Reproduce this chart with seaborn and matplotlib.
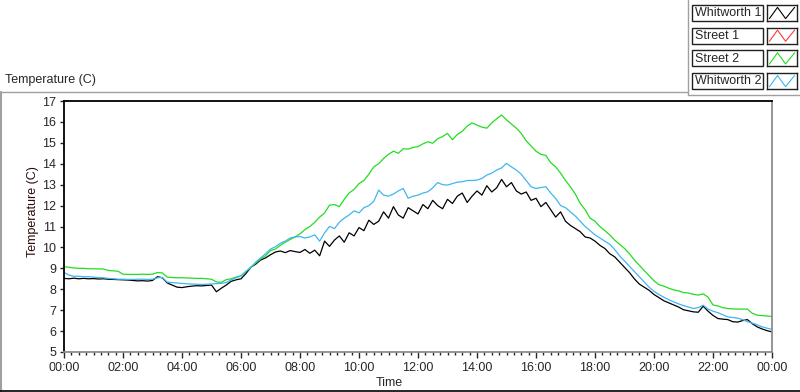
import numpy as np
import pandas as pd
import matplotlib.pyplot as plt
import seaborn as sns
from matplotlib.patches import Rectangle
from matplotlib.lines import Line2D
from matplotlib.ticker import MultipleLocator, FuncFormatter

# Series names / colours (as in the chart legend)
series_names = ["Whitworth 1", "Street 1", "Street 2", "Whitworth 2"]
series_colors = ["#000000", "#ff3a3a", "#22dd22", "#3fb6f2"]

# Temperature readings every 10 minutes, 00:00 -> 24:00
whitworth_1 = [
    8.52, 8.50, 8.53, 8.50, 8.52, 8.50,
    8.51, 8.49, 8.50, 8.48, 8.47, 8.46,
    8.45, 8.44, 8.42, 8.40, 8.41, 8.39,
    8.42, 8.60, 8.55, 8.30, 8.20, 8.10,
    8.08, 8.12, 8.15, 8.17, 8.16, 8.18,
    8.20, 7.88, 8.05, 8.20, 8.38, 8.45,
    8.50, 8.75, 9.05, 9.20, 9.40, 9.50,
    9.65, 9.78, 9.83, 9.75, 9.85, 9.80,
    9.76, 9.90, 9.72, 9.87, 9.60, 10.30,
    10.05, 10.35, 10.55, 10.25, 10.70, 10.55,
    10.95, 10.80, 11.30, 11.10, 11.25, 11.70,
    11.40, 11.95, 11.55, 11.40, 11.90, 11.75,
    11.60, 12.05, 11.85, 12.25, 12.00, 11.85,
    12.30, 12.10, 12.45, 12.60, 12.15, 12.45,
    12.70, 12.50, 12.95, 12.65, 12.85, 13.25,
    12.90, 13.10, 12.70, 12.55, 12.65, 12.25,
    12.35, 11.95, 12.15, 11.80, 11.45, 11.70,
    11.25, 11.05, 10.90, 10.75, 10.50, 10.45,
    10.30, 10.10, 9.95, 9.70, 9.55, 9.30,
    9.05, 8.80, 8.50, 8.25, 8.10, 7.95,
    7.75, 7.60, 7.45, 7.35, 7.25, 7.15,
    7.02, 6.97, 6.92, 6.90, 7.19, 6.95,
    6.75, 6.60, 6.57, 6.55, 6.45, 6.43,
    6.50, 6.55, 6.35, 6.20, 6.10, 6.02,
    5.96,
]
street_1 = []  # listed in the legend, no trace visible
street_2 = [
    9.08, 9.05, 9.02, 9.00, 9.00, 8.98,
    8.98, 8.97, 8.97, 8.90, 8.88, 8.86,
    8.72, 8.71, 8.71, 8.71, 8.72, 8.71,
    8.72, 8.80, 8.78, 8.58, 8.56, 8.55,
    8.55, 8.54, 8.53, 8.52, 8.52, 8.50,
    8.48, 8.35, 8.33, 8.46, 8.50, 8.58,
    8.65, 8.85, 9.05, 9.25, 9.45, 9.60,
    9.85, 9.92, 10.10, 10.25, 10.38, 10.50,
    10.65, 10.85, 11.00, 11.20, 11.45, 11.65,
    12.02, 12.05, 11.95, 12.30, 12.60, 12.78,
    13.05, 13.20, 13.50, 13.85, 14.00, 14.25,
    14.45, 14.60, 14.50, 14.72, 14.70, 14.78,
    14.82, 14.95, 15.05, 14.98, 15.20, 15.30,
    15.45, 15.15, 15.40, 15.55, 15.80, 15.95,
    15.85, 15.75, 15.70, 15.95, 16.15, 16.33,
    16.10, 15.90, 15.70, 15.45, 15.10, 14.85,
    14.60, 14.45, 14.40, 14.05, 13.85, 13.55,
    13.20, 12.90, 12.55, 12.10, 11.80, 11.40,
    11.25, 11.00, 10.80, 10.60, 10.35, 10.15,
    9.95, 9.70, 9.40, 9.15, 8.90, 8.65,
    8.40, 8.22, 8.15, 8.05, 7.97, 7.92,
    7.84, 7.82, 7.76, 7.72, 7.78, 7.62,
    7.25, 7.20, 7.12, 7.08, 7.06, 7.05,
    7.05, 7.05, 6.85, 6.76, 6.74, 6.72,
    6.70,
]
whitworth_2 = [
    8.80, 8.68, 8.62, 8.62, 8.60, 8.60,
    8.58, 8.56, 8.55, 8.52, 8.50, 8.48,
    8.48, 8.47, 8.47, 8.48, 8.48, 8.47,
    8.48, 8.55, 8.56, 8.34, 8.32, 8.30,
    8.28, 8.26, 8.25, 8.24, 8.23, 8.24,
    8.25, 8.27, 8.28, 8.32, 8.45, 8.55,
    8.63, 8.85, 9.05, 9.30, 9.50, 9.70,
    9.92, 10.03, 10.20, 10.30, 10.45, 10.50,
    10.52, 10.45, 10.50, 10.60, 10.30, 10.70,
    11.00, 10.90, 11.20, 11.40, 11.55, 11.75,
    11.65, 11.90, 12.00, 12.20, 12.74, 12.50,
    12.45, 12.55, 12.70, 12.82, 12.35, 12.45,
    12.50, 12.60, 12.66, 12.85, 13.10, 13.00,
    12.98, 13.05, 13.12, 13.14, 13.20, 13.20,
    13.22, 13.30, 13.46, 13.55, 13.70, 13.80,
    14.02, 13.85, 13.70, 13.50, 13.20, 12.90,
    12.82, 12.86, 12.90, 12.60, 12.34, 12.00,
    11.90, 11.70, 11.50, 11.25, 11.00, 10.80,
    10.60, 10.45, 10.30, 10.15, 9.90, 9.60,
    9.35, 9.10, 8.85, 8.60, 8.35, 8.10,
    7.90, 7.75, 7.62, 7.50, 7.40, 7.30,
    7.22, 7.15, 7.08, 7.12, 7.24, 7.05,
    6.95, 6.88, 6.78, 6.68, 6.65, 6.62,
    6.55, 6.45, 6.38, 6.30, 6.20, 6.14,
    6.08,
]

hours = np.arange(len(whitworth_1)) / 6  # 10 minute steps

frames = []
for name, vals in zip(series_names, [whitworth_1, street_1, street_2, whitworth_2]):
    frames.append(pd.DataFrame({"hour": hours[:len(vals)], "temp": vals, "series": name}))
df = pd.concat(frames, ignore_index=True)

sns.set_style("white")
plt.rcParams["font.family"] = ["Liberation Sans", "DejaVu Sans"]
plt.rcParams["font.size"] = 9

W, H = 800, 392
fig = plt.figure(figsize=(W / 100, H / 100), dpi=100)
fig.patch.set_facecolor("white")

def fx(x):
    return x / W

def fy(y):
    return 1 - y / H

ax = fig.add_axes([fx(64), fy(352), fx(772) - fx(64), fy(101) - fy(352)])
sns.lineplot(data=df, x="hour", y="temp", hue="series", hue_order=series_names,
             palette=dict(zip(series_names, series_colors)), legend=False,
             errorbar=None, linewidth=0.9, ax=ax)

ax.set_xlim(0, 24)
ax.set_ylim(5, 17)
ax.xaxis.set_major_locator(MultipleLocator(2))
ax.xaxis.set_minor_locator(MultipleLocator(0.25))
ax.xaxis.set_major_formatter(FuncFormatter(lambda v, p: "%02d:00" % (int(round(v)) % 24)))
ax.yaxis.set_major_locator(MultipleLocator(1))
ax.tick_params(axis="x", which="major", direction="out", length=4.5, width=1, pad=3, labelsize=9, bottom=True)
ax.tick_params(axis="x", which="minor", direction="out", length=2.5, width=1, bottom=True)
ax.tick_params(axis="y", which="major", direction="out", length=3, width=1, pad=2.5, labelsize=9, left=True)

for side in ["top", "left"]:
    ax.spines[side].set_color("black")
    ax.spines[side].set_linewidth(1.3)
for side in ["bottom", "right"]:
    ax.spines[side].set_color("#8c8c8c")
    ax.spines[side].set_linewidth(1.3)

ax.set_xlabel("Time", fontsize=9)
ax.set_ylabel("Temperature (C)", fontsize=9, color="#2a0a0a")
ax.xaxis.set_label_coords(0.459, -0.10)
ax.yaxis.set_label_coords(-0.036, 0.56)

# chart title / frame in LabVIEW style
fig.text(fx(5), fy(80), "Temperature (C)", fontsize=9, va="center", ha="left")
fig.add_artist(Line2D([fx(0), fx(688)], [fy(92), fy(92)], color="#a0a0a0", lw=1))
fig.add_artist(Line2D([fx(1), fx(1)], [fy(92), fy(392)], color="#a0a0a0", lw=1.5))
fig.add_artist(Line2D([fx(0), fx(800)], [fy(390.5), fy(390.5)], color="black", lw=1.2))
fig.add_artist(Line2D([fx(688), fx(688)], [fy(0), fy(95)], color="#a0a0a0", lw=1))
fig.add_artist(Line2D([fx(688), fx(800)], [fy(95), fy(95)], color="#a0a0a0", lw=1))

# legend: name box + swatch box
for i, (name, col) in enumerate(zip(series_names, series_colors)):
    top = 5 + i * 22.7
    fig.add_artist(Rectangle((fx(692), fy(top + 16)), fx(763) - fx(692), fy(top) - fy(top + 16),
                             transform=fig.transFigure, facecolor="white", edgecolor="#202020", lw=1))
    fig.text(fx(695), fy(top + 8.3), name, fontsize=9, va="center", ha="left")
    sw = fig.add_axes([fx(767), fy(top + 16), fx(797) - fx(767), fy(top) - fy(top + 16)])
    sw.plot([0.08, 0.35, 0.62, 0.92], [0.15, 0.85, 0.15, 0.85], color=col, lw=0.8)
    sw.set_xlim(0, 1)
    sw.set_ylim(0, 1)
    sw.set_xticks([])
    sw.set_yticks([])
    for s in sw.spines.values():
        s.set_color("#202020")
        s.set_linewidth(1)

fig.savefig("out.png", dpi=100)
